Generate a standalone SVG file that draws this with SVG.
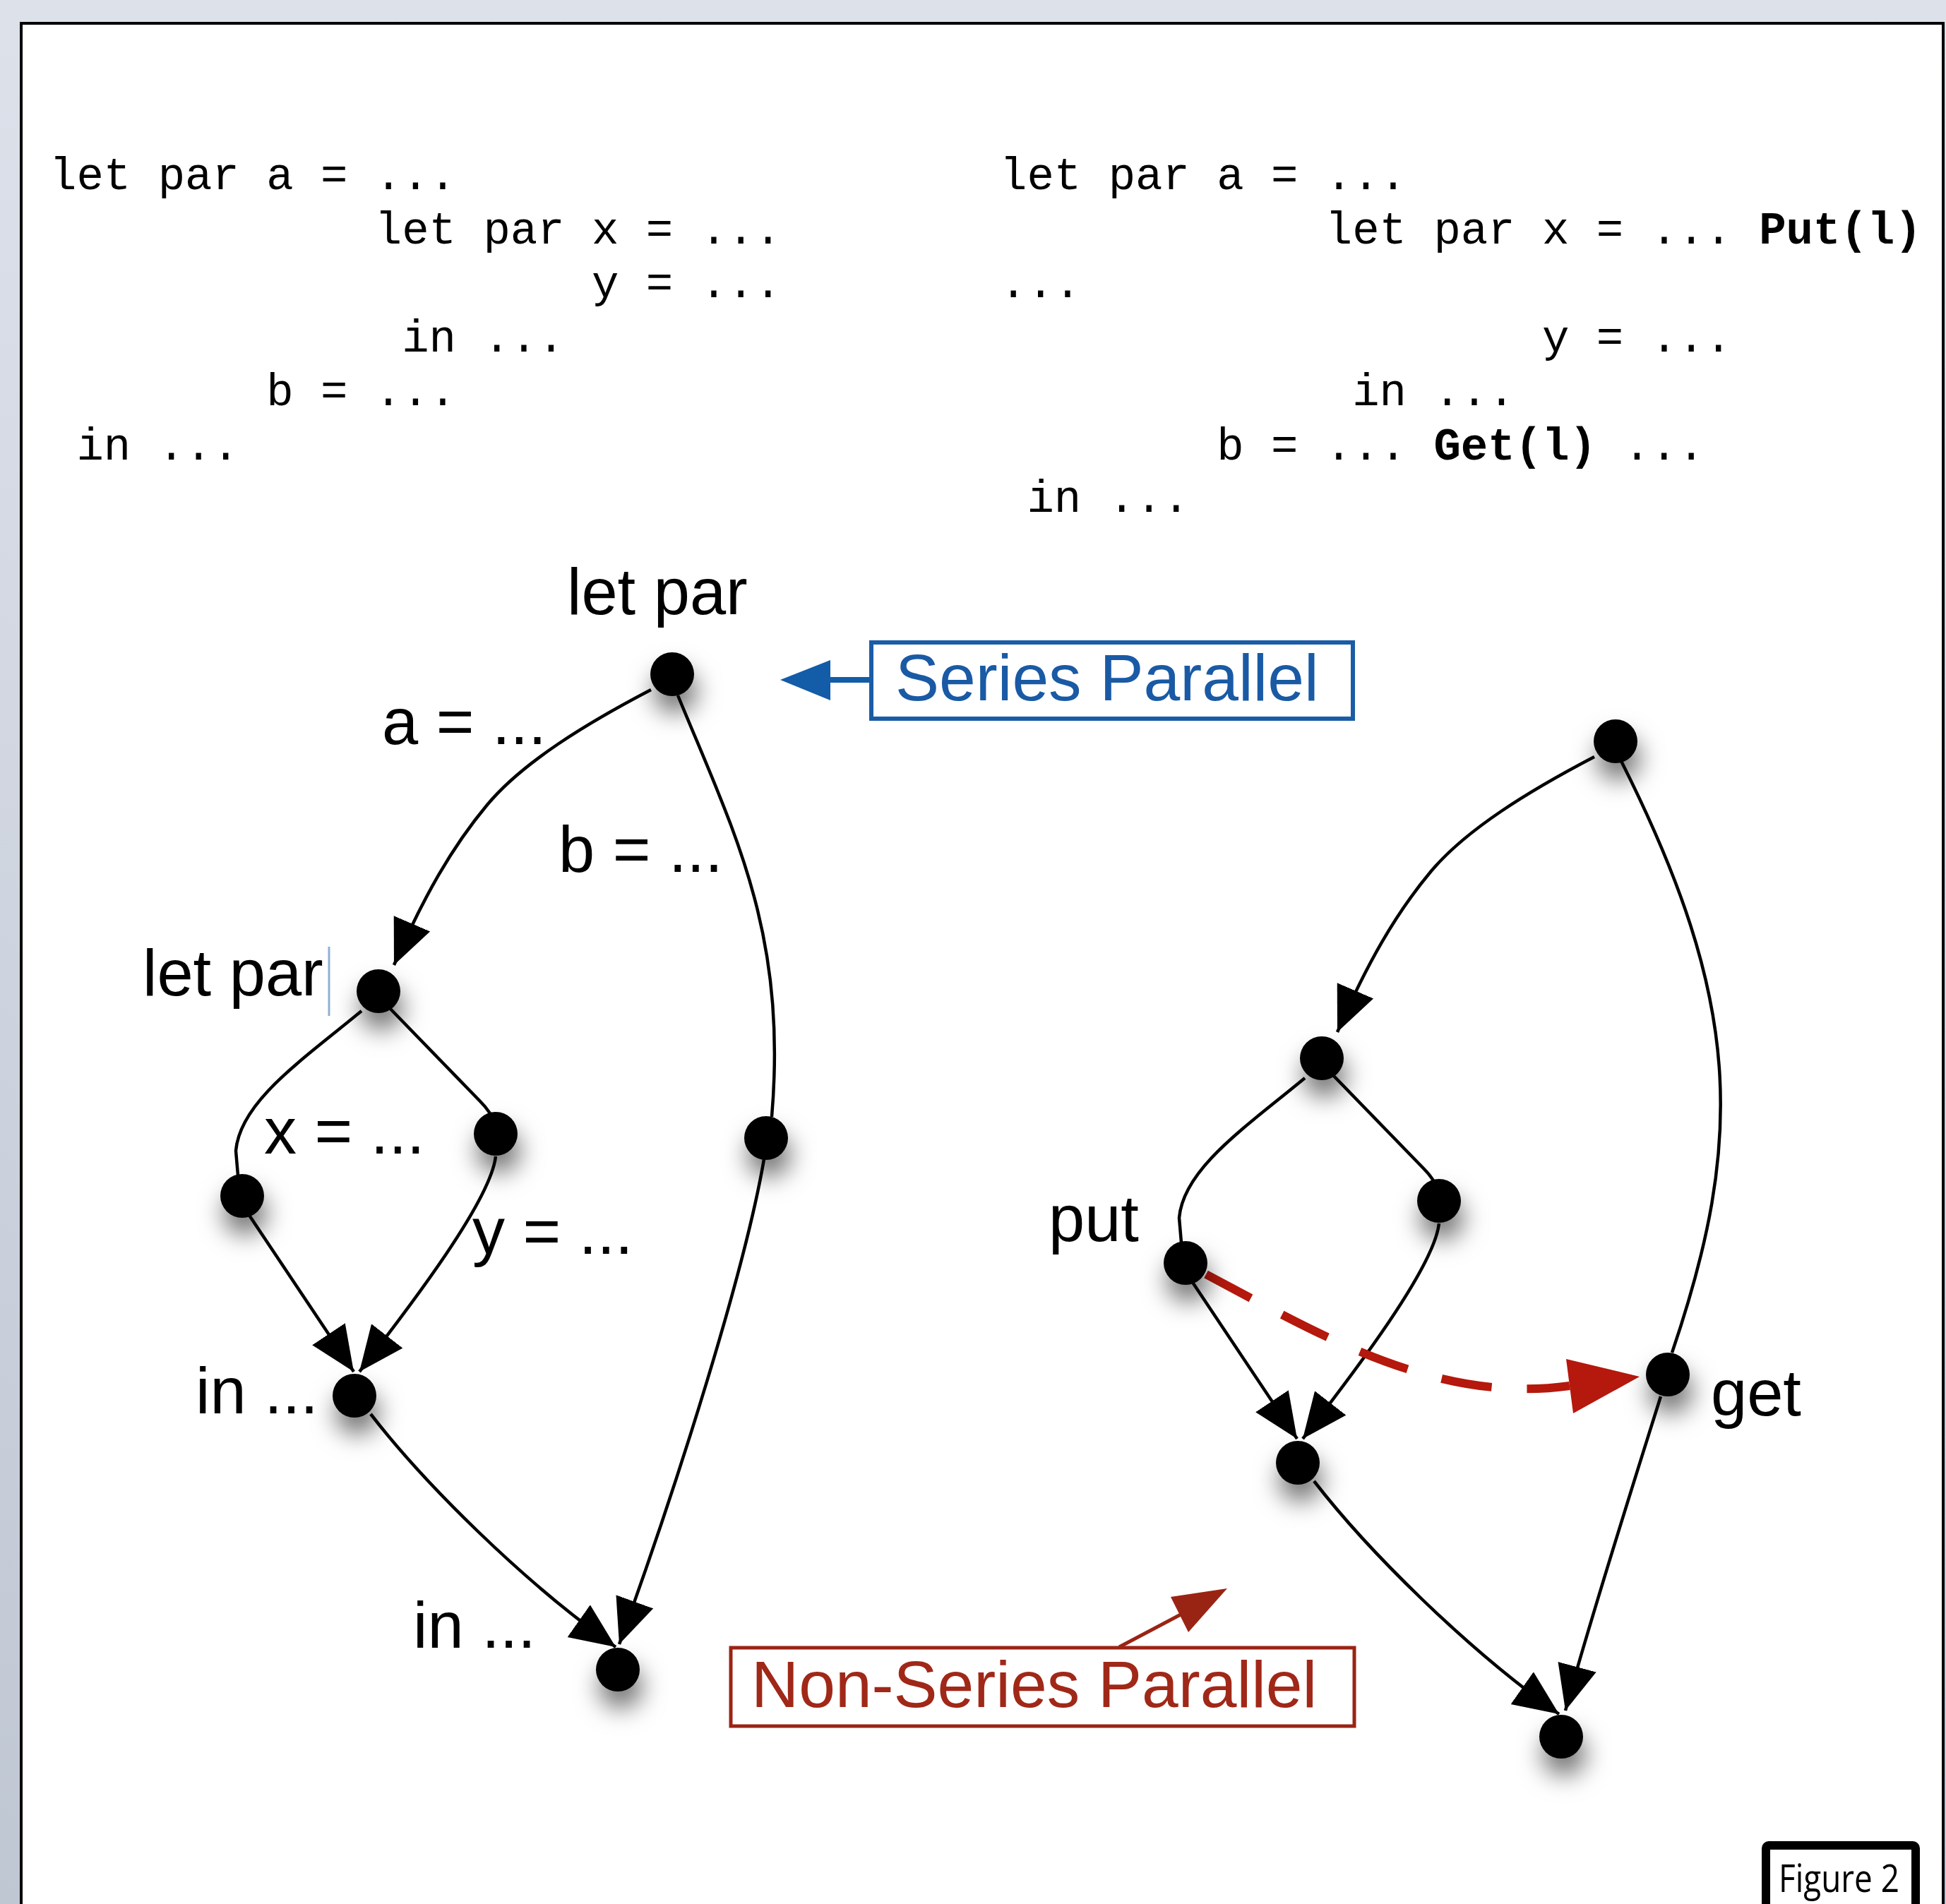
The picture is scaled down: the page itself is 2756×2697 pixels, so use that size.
<svg xmlns="http://www.w3.org/2000/svg" width="2756" height="2697" viewBox="0 0 2756 2697">
  <defs>
    <linearGradient id="bg" x1="0" y1="0" x2="0" y2="1">
      <stop offset="0" stop-color="#dde1ea"/>
      <stop offset="1" stop-color="#bfc7d3"/>
    </linearGradient>
    <filter id="shadow" x="-150%" y="-150%" width="400%" height="450%">
      <feDropShadow dx="4" dy="24" stdDeviation="17" flood-color="#000" flood-opacity="0.55"/>
    </filter>
    <marker id="arrow" markerUnits="userSpaceOnUse" markerWidth="70" markerHeight="60" refX="64" refY="28" orient="auto">
      <path d="M0,0 L64,28 L0,56 Z" fill="#000"/>
    </marker>
    <style>
      .code { font-family: "Liberation Mono", "Courier New", monospace; font-size: 64px; fill: #000; }
      .code .b { font-weight: bold; }
      .lbl { font-family: "Liberation Sans", Arial, Helvetica, sans-serif; font-size: 92px; fill: #000; }
      .edge { fill: none; stroke: #000; stroke-width: 4.5; }
      .arr { marker-end: url(#arrow); }
      .node { fill: #000; filter: url(#shadow); }
    </style>
  </defs>

  <!-- window background and page -->
  <rect x="0" y="0" width="2756" height="2697" fill="url(#bg)"/>
  <rect x="30" y="33" width="2722" height="2700" fill="#fff" stroke="#000" stroke-width="4"/>

  <!-- source listings -->
  <g id="code-left" class="code">
    <text x="70" y="268">let par a = ...</text>
    <text x="530.8" y="344.5">let par x = ...</text>
    <text x="838" y="421">y = ...</text>
    <text x="569.2" y="497.5">in ...</text>
    <text x="377.2" y="574">b = ...</text>
    <text x="108.4" y="650.5">in ...</text>
  </g>
  <g id="code-right" class="code">
    <text x="1416" y="268">let par a = ...</text>
    <text x="1876.8" y="344.5">let par x = ...</text>
    <text class="b" x="2491.2" y="344.5">Put(l)</text>
    <text x="1416" y="421">...</text>
    <text x="2184" y="497.5">y = ...</text>
    <text x="1915.2" y="574">in ...</text>
    <text x="1723.2" y="650.5">b = ...</text>
    <text class="b" x="2030.4" y="650.5">Get(l)</text>
    <text x="2299.2" y="650.5">...</text>
    <text x="1454.4" y="725">in ...</text>
  </g>

  <!-- connectors -->
  <g id="connectors">
    <!-- series-parallel graph -->
    <g id="sp-edges">
      <path class="edge arr" d="M922,977 C830,1025 740,1080 690,1140 S600,1270 558,1367"/>
      <path class="edge" d="M960,985 C1040,1180 1115,1320 1093,1582"/>
      <path class="edge" d="M512,1432 C430,1500 340,1560 334,1630 L337,1665"/>
      <path class="edge" d="M548,1424 L680,1560 Q695,1575 700,1590"/>
      <path class="edge arr" d="M352,1720 L501,1943"/>
      <path class="edge arr" d="M702,1638 C695,1700 585,1845 509,1943"/>
      <path class="edge arr" d="M525,2003 C600,2100 740,2240 872,2333"/>
      <path class="edge arr" d="M1082,1642 C1055,1800 960,2100 877,2329"/>
    </g>
    <!-- non-series-parallel graph: same shape shifted, plus the get branch -->
    <g id="nsp-edges">
      <g transform="translate(1336,95)">
        <path class="edge arr" d="M922,977 C830,1025 740,1080 690,1140 S600,1270 558,1367"/>
        <path class="edge" d="M512,1432 C430,1500 340,1560 334,1630 L337,1665"/>
        <path class="edge" d="M548,1424 L680,1560 Q695,1575 700,1590"/>
        <path class="edge arr" d="M352,1720 L501,1943"/>
        <path class="edge arr" d="M702,1638 C695,1700 585,1845 509,1943"/>
        <path class="edge arr" d="M525,2003 C600,2100 740,2240 872,2333"/>
      </g>
      <path class="edge" d="M2296,1078 C2467,1418 2471,1613 2368,1916"/>
      <path class="edge arr" d="M2352,1978 C2320,2080 2250,2300 2217,2423"/>
    </g>
    <!-- put -> get dependency -->
    <g id="put-get">
      <path d="M1708,1805 C1860,1885 2030,1990 2223,1963" fill="none" stroke="#b5180c" stroke-width="12" stroke-dasharray="72 50"/>
      <polygon points="2322,1950 2218,1925 2228,2002" fill="#b5180c"/>
    </g>
    <!-- callout arrows -->
    <g id="callouts">
      <line x1="1176" y1="963" x2="1234" y2="963" stroke="#135ca8" stroke-width="8"/>
      <polygon points="1105,963 1176,935 1176,992" fill="#135ca8"/>
      <line x1="1585" y1="2333" x2="1672" y2="2287" stroke="#9a2414" stroke-width="5"/>
      <polygon points="1738,2250 1658,2262 1683,2312" fill="#9a2414"/>
    </g>
  </g>

  <!-- series-parallel graph nodes -->
  <g id="sp-root"><circle class="node" cx="952" cy="955" r="31"/><text class="lbl" x="803" y="870">let par</text></g>
  <g id="sp-a"><text class="lbl" x="541" y="1054">a = ...</text></g>
  <g id="sp-b"><text class="lbl" x="791" y="1235">b = ...</text></g>
  <g id="sp-inner"><circle class="node" cx="536" cy="1404" r="31"/><text class="lbl" x="202" y="1410">let par</text>
    <line x1="466" y1="1341" x2="466" y2="1439" stroke="#8fb0d2" stroke-width="3"/></g>
  <g id="sp-x"><circle class="node" cx="343" cy="1694" r="31"/><text class="lbl" x="374" y="1634">x = ...</text></g>
  <g id="sp-y"><circle class="node" cx="702" cy="1606" r="31"/><text class="lbl" x="669" y="1776">y = ...</text></g>
  <g id="sp-join"><circle class="node" cx="502" cy="1977" r="31"/><text class="lbl" x="277" y="2002">in ...</text></g>
  <g id="sp-bnode"><circle class="node" cx="1085" cy="1612" r="31"/></g>
  <g id="sp-end"><circle class="node" cx="875" cy="2365" r="31"/><text class="lbl" x="585" y="2334">in ...</text></g>

  <!-- non-series-parallel graph nodes -->
  <g id="nsp-root"><circle class="node" cx="2288" cy="1050" r="31"/></g>
  <g id="nsp-inner"><circle class="node" cx="1872" cy="1499" r="31"/></g>
  <g id="nsp-put"><circle class="node" cx="1679" cy="1789" r="31"/><text class="lbl" x="1485" y="1758">put</text></g>
  <g id="nsp-y"><circle class="node" cx="2038" cy="1701" r="31"/></g>
  <g id="nsp-join"><circle class="node" cx="1838" cy="2072" r="31"/></g>
  <g id="nsp-get"><circle class="node" cx="2362" cy="1947" r="31"/><text class="lbl" x="2423" y="2005">get</text></g>
  <g id="nsp-end"><circle class="node" cx="2211" cy="2460" r="31"/></g>

  <!-- callout boxes -->
  <g id="sp-callout">
    <rect x="1234" y="910" width="682" height="108" fill="#fff" stroke="#1b5ca6" stroke-width="6"/>
    <text class="lbl" x="1268" y="992" style="fill:#1a5aa5;font-size:93px">Series Parallel</text>
  </g>
  <g id="nsp-callout">
    <rect x="1035" y="2334" width="883" height="111" fill="#fff" stroke="#9a2414" stroke-width="5"/>
    <text class="lbl" x="1064" y="2418" style="fill:#a02818;font-size:93px">Non-Series Parallel</text>
  </g>

  <!-- figure tag -->
  <g id="figure-tag">
    <rect x="2501" y="2614" width="212" height="100" rx="4" fill="#fff" stroke="#000" stroke-width="12"/>
    <text x="2519" y="2680" font-family="Open Sans, Liberation Sans, sans-serif" font-size="55" textLength="171" lengthAdjust="spacingAndGlyphs" fill="#000">Figure 2</text>
  </g>
</svg>
